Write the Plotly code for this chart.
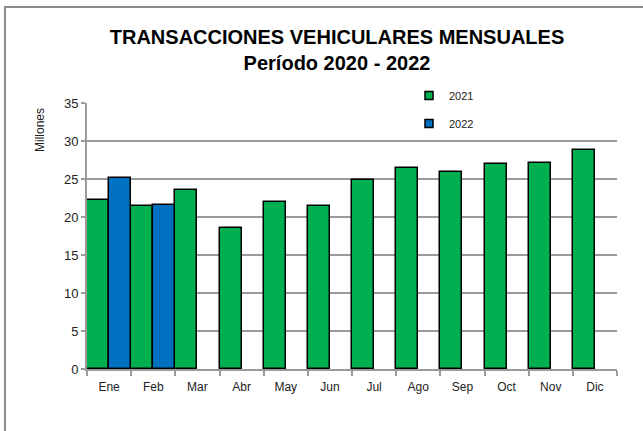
import plotly.graph_objects as go

MESES = ["Ene", "Feb", "Mar", "Abr", "May", "Jun", "Jul", "Ago", "Sep", "Oct", "Nov", "Dic"]
V_2021 = [22.2, 21.4, 23.5, 18.5, 22.0, 21.4, 24.9, 26.4, 25.9, 27.0, 27.1, 28.8]
V_2022 = [25.1, 21.6, None, None, None, None, None, None, None, None, None, None]
SERIES = [("2021", V_2021, "#00B050"), ("2022", V_2022, "#0070C0")]

FONT = "Liberation Sans, Arial, sans-serif"
GRID = "#9a9a9a"

fig = go.Figure()
for name, vals, color in SERIES:
    fig.add_trace(go.Bar(x=MESES, y=vals, name=name, showlegend=False,
                         marker=dict(color=color, line=dict(color="black", width=1.5))))
# entradas de leyenda con cuadrito pequeño
for name, vals, color in SERIES:
    fig.add_trace(go.Scatter(x=[None], y=[None], name=name, mode="markers", legendgroup=name,
                             marker=dict(symbol="square", size=8, color=color,
                                         line=dict(color="black", width=1.5))))

# marco exterior
fig.add_shape(type="rect", xref="paper", yref="paper",
              x0=(5 - 87) / 530, x1=(700 - 87) / 530, y0=(369 - 480) / 266, y1=(369 - 7) / 266,
              line=dict(color="#8c8c8c", width=2), layer="below")

fig.add_annotation(text="Millones", textangle=-90, xref="paper", yref="paper",
                   x=(40 - 87) / 530, y=(369 - 130) / 266, xanchor="center", yanchor="middle",
                   showarrow=False, font=dict(family=FONT, size=12, color="#222"))

fig.update_layout(
    width=643, height=431,
    margin=dict(l=87, r=26, t=103, b=62),
    paper_bgcolor="white", plot_bgcolor="white",
    barmode="group", bargap=0, bargroupgap=0,
    font=dict(family=FONT, size=12, color="#222"),
    title=dict(text="<b>TRANSACCIONES VEHICULARES MENSUALES<br>Período 2020 - 2022</b>",
               x=337 / 643, xanchor="center", y=1 - 44 / 431, yanchor="top",
               font=dict(family=FONT, size=20, color="black")),
    showlegend=True,
    legend=dict(x=(409 - 87) / 530, y=(369 - 81) / 266, xanchor="left", yanchor="top",
                bgcolor="rgba(0,0,0,0)", font=dict(family=FONT, size=11, color="#222"),
                tracegroupgap=9, itemwidth=30),
    xaxis=dict(showline=True, linecolor=GRID, linewidth=2, ticks="outside", tickson="boundaries",
               ticklen=5, tickcolor=GRID, tickwidth=2, showgrid=False, ticklabelstandoff=6,
               tickfont=dict(family=FONT, size=12, color="#222")),
    yaxis=dict(range=[0, 35], dtick=5, showline=True, linecolor=GRID, linewidth=2,
               ticks="outside", ticklen=4, tickcolor=GRID, tickwidth=2,
               showgrid=True, gridcolor=GRID, gridwidth=2, zeroline=False,
               tickfont=dict(family=FONT, size=13, color="#222")),
)

fig.write_html("out.html", config={"displayModeBar": False},
               post_script="document.body.style.margin='0';")
